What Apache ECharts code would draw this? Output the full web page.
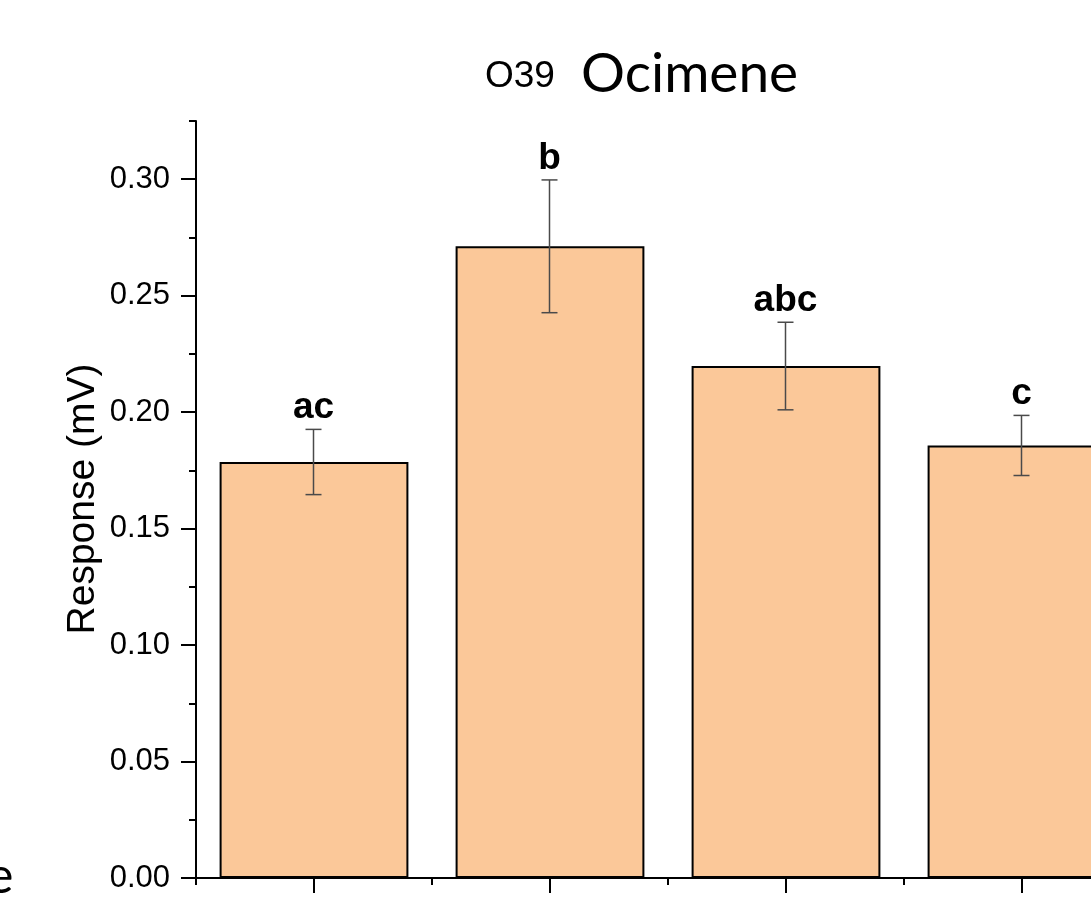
<!DOCTYPE html>
<html>
<head>
<meta charset="utf-8">
<script src="https://cdn.jsdelivr.net/npm/echarts@6/dist/echarts.min.js"></script>
<style>
html,body{margin:0;padding:0;background:#fff;}
#chart{width:1091px;height:905px;}
</style>
</head>
<body>
<div id="chart"></div>
<script>
// ---- data ----
var categories = ['G1', 'G2', 'G3', 'G4'];
var means = [0.1786, 0.2712, 0.2198, 0.1857];
var errors = [0.0140, 0.0285, 0.0188, 0.0129];
var letters = ['ac', 'b', 'abc', 'c'];
var yMajorTicks = [0, 0.05, 0.10, 0.15, 0.20, 0.25, 0.30];

var chart = echarts.init(document.getElementById('chart'), null, {renderer: 'canvas'});

var errData = means.map(function (m, i) { return [i, m - errors[i], m + errors[i], letters[i]]; });

var option = {
  animation: false,
  backgroundColor: '#fff',
  grid: {left: 196, top: 121, width: 944, bottom: 27, containLabel: false, outerBoundsMode: 'none'},
  xAxis: [
    {
      type: 'category', data: categories, position: 'bottom',
      boundaryGap: true,
      axisLine: {show: true, lineStyle: {color: '#000', width: 2}},
      axisTick: {show: true, alignWithLabel: true, inside: false, length: 15, lineStyle: {color: '#000', width: 2}},
      axisLabel: {show: false},
      splitLine: {show: false}
    },
    {
      type: 'category', data: categories, position: 'bottom',
      boundaryGap: true,
      axisLine: {show: false},
      axisTick: {show: true, alignWithLabel: false, inside: false, length: 7, lineStyle: {color: '#000', width: 2}},
      axisLabel: {show: false},
      splitLine: {show: false}
    }
  ],
  yAxis: [
    {
      type: 'value', position: 'left', min: 0, max: 0.325, interval: 0.05,
      axisLine: {show: true, lineStyle: {color: '#000', width: 2}},
      axisTick: {show: true, inside: false, length: 15, customValues: yMajorTicks, lineStyle: {color: '#000', width: 2}},
      axisLabel: {
        show: true, margin: 26, customValues: yMajorTicks,
        color: '#000', fontFamily: 'Liberation Sans, Arial', fontSize: 31,
        formatter: function (v) { return v.toFixed(2); }
      },
      splitLine: {show: false}
    },
    {
      type: 'value', position: 'left', min: 0, max: 0.325, interval: 0.025,
      axisLine: {show: false},
      axisTick: {show: true, inside: false, length: 7, lineStyle: {color: '#000', width: 2}},
      axisLabel: {show: false},
      splitLine: {show: false}
    }
  ],
  series: [
    {
      type: 'bar', xAxisIndex: 0, yAxisIndex: 0,
      data: means,
      barWidth: '80%',
      itemStyle: {color: '#FBC899', borderColor: '#000', borderWidth: 2}
    },
    {
      type: 'custom', xAxisIndex: 0, yAxisIndex: 0,
      data: errData,
      z: 5,
      renderItem: function (params, api) {
        var x = api.value(0);
        var lo = api.coord([x, api.value(1)]);
        var hi = api.coord([x, api.value(2)]);
        var cx = Math.round(lo[0]) - 0.5;
        var capW = 8;
        var st = {stroke: '#4a4a4a', lineWidth: 1.5};
        return {
          type: 'group',
          children: [
            {type: 'line', shape: {x1: cx, y1: hi[1], x2: cx, y2: lo[1]}, style: st},
            {type: 'line', shape: {x1: cx - capW, y1: hi[1], x2: cx + capW, y2: hi[1]}, style: st},
            {type: 'line', shape: {x1: cx - capW, y1: lo[1], x2: cx + capW, y2: lo[1]}, style: st},
            {type: 'text', style: {
              text: api.value(3), x: cx, y: hi[1] - 3,
              textAlign: 'center', textVerticalAlign: 'bottom',
              fill: '#000', font: 'bold 37px "Liberation Sans", Arial'
            }}
          ]
        };
      }
    }
  ],
  graphic: [
    {type: 'text', left: 485, top: 58, rotation: 0, style: {text: 'O39', fill: '#000', font: '37px "Liberation Sans", Arial'}},
    {type: 'text', left: 581, top: 47, rotation: 0, style: {text: 'Ocimene', fill: '#000', font: '55px Lato'}},
    {type: 'text', x: 83, y: 499, rotation: Math.PI / 2, style: {text: 'Response (mV)', fill: '#000', font: '39px "Liberation Sans", Arial', textAlign: 'center', textVerticalAlign: 'middle'}},
    {type: 'text', left: -13, top: 852, rotation: 0, style: {text: 'e', fill: '#000', font: '50px Lato'}}
  ]
};
chart.setOption(option);
</script>
</body>
</html>
